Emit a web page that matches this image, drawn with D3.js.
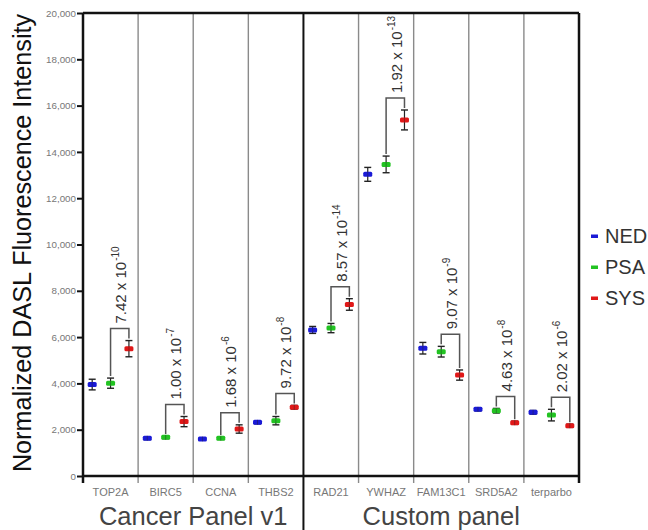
<!DOCTYPE html>
<html>
<head>
<meta charset="utf-8">
<script src="https://cdn.jsdelivr.net/npm/d3@7"></script>
<style>
  body { margin: 0; background: #fff; }
  svg { display: block; font-family: "Liberation Sans", Arial, sans-serif; }
</style>
</head>
<body>
<div id="chart"></div>
<script>
// Gene-level DASL intensities, three sample groups (mean ± error)
const genes   = ["TOP2A", "BIRC5", "CCNA", "THBS2", "RAD21", "YWHAZ", "FAM13C1", "SRD5A2", "terparbo"];
const panels  = ["Cancer Panel v1", "Cancer Panel v1", "Cancer Panel v1", "Cancer Panel v1",
                 "Custom panel", "Custom panel", "Custom panel", "Custom panel", "Custom panel"];
const series  = ["NED", "PSA", "SYS"];
const colors  = ["#1a1ad6", "#22c322", "#e01818"];

const ned    = [3950, 1630, 1600, 2320, 6310, 13030, 5520, 2880, 2750];
const nedErr = [ 230,   60,   50,   70,  150,   300,  250,   70,   80];
const psa    = [4010, 1670, 1630, 2390, 6390, 13460, 5370, 2820, 2630];
const psaErr = [ 220,   60,   50,  180,  200,   360,  230,  100,  250];
const sys    = [5500, 2350, 2030, 2970, 7410, 15380, 4360, 2300, 2170];
const sysErr = [ 350,  220,  180,   80,  250,   430,  220,   70,   70];

// PSA vs SYS p-values: mantissa and exponent
const pMant = ["7.42", "1.00", "1.68", "9.72", "8.57", "1.92", "9.07", "4.63", "2.02"];
const pExp  = [-10, -7, -6, -8, -14, -13, -9, -8, -6];

const yTicks = d3.range(0, 20001, 2000);

const W = 648, H = 530;
const M = { top: 13, right: 69, bottom: 54, left: 83 };

const svg = d3.select("#chart").append("svg").attr("width", W).attr("height", H);

const x = d3.scaleBand().domain(genes).range([M.left, W - M.right]);
const xs = d3.scalePoint().domain(series).range([0, x.bandwidth()]).padding(0.5);
const y = d3.scaleLinear().domain([0, 20000]).range([H - M.bottom, M.top]);

const means = [ned, psa, sys];
const errs  = [nedErr, psaErr, sysErr];

// column separators (thin grey, thick black between panels)
const bounds = genes.slice(1).map((g) => x(g));
svg.append("g").selectAll("line").data(bounds).enter().append("line")
  .attr("x1", (d) => d).attr("x2", (d) => d)
  .attr("y1", M.top)
  .attr("y2", (d, i) => panels[i] !== panels[i + 1] ? H : y(0) + 7)
  .attr("stroke", (d, i) => panels[i] !== panels[i + 1] ? "#111" : "#8a8a8a")
  .attr("stroke-width", (d, i) => panels[i] !== panels[i + 1] ? 2 : 1.4);

// frame
const x0 = M.left, x1 = W - M.right;
svg.append("line").attr("x1", x0).attr("x2", x1).attr("y1", M.top).attr("y2", M.top)
  .attr("stroke", "#111").attr("stroke-width", 2.5);
svg.append("line").attr("x1", x1).attr("x2", x1).attr("y1", M.top).attr("y2", y(0) + 7)
  .attr("stroke", "#111").attr("stroke-width", 2.5);
svg.append("line").attr("x1", x0).attr("x2", x0).attr("y1", M.top).attr("y2", y(0) + 7)
  .attr("stroke", "#111").attr("stroke-width", 2.5);
svg.append("line").attr("x1", x0 - 1).attr("x2", x1 + 1).attr("y1", y(0)).attr("y2", y(0))
  .attr("stroke", "#111").attr("stroke-width", 2.5);

// y axis
const yAxis = svg.append("g").attr("transform", `translate(${x0},0)`)
  .call(d3.axisLeft(y).tickValues(yTicks).tickFormat(d3.format(",")).tickSize(6).tickPadding(1));
yAxis.select(".domain").remove();
yAxis.selectAll(".tick line").attr("stroke", "#111").attr("stroke-width", 2);
yAxis.selectAll(".tick text").attr("fill", "#777").attr("font-size", 9.8)
  .attr("font-family", "Liberation Sans, Arial, sans-serif");

svg.append("text")
  .attr("transform", `translate(31,243) rotate(-90)`)
  .attr("text-anchor", "middle")
  .attr("font-size", 25.2).attr("fill", "#111")
  .text("Normalized DASL Fluorescence Intensity");

// gene labels
svg.append("g").selectAll("text").data(genes).enter().append("text")
  .attr("x", (d) => x(d) + x.bandwidth() / 2)
  .attr("y", y(0) + 20)
  .attr("text-anchor", "middle")
  .attr("font-size", 11).attr("fill", "#777")
  .text((d) => d);

// panel labels
const panelNames = Array.from(new Set(panels));
svg.append("g").selectAll("text").data(panelNames).enter().append("text")
  .attr("x", (p) => {
    const gs = genes.filter((g, i) => panels[i] === p);
    return (x(gs[0]) + x(gs[gs.length - 1]) + x.bandwidth()) / 2;
  })
  .attr("y", H - 5)
  .attr("text-anchor", "middle")
  .attr("font-size", 25.5).attr("fill", "#444")
  .text((p) => p);

// brackets + p-values
const bracket = svg.append("g");
genes.forEach((g, i) => {
  const xa = x(g) + xs("PSA"), xb = x(g) + xs("SYS");
  const ya = y(psa[i] + psaErr[i]) - 2, yb = y(sys[i] + sysErr[i]) - 2;
  const top = Math.min(ya, yb) - 10;
  bracket.append("path")
    .attr("d", `M${xa},${ya}V${top}H${xb}V${yb}`)
    .attr("fill", "none").attr("stroke", "#555").attr("stroke-width", 1.5);
  const t = bracket.append("text")
    .attr("transform", `translate(${(xa + xb) / 2 + 1},${top - 5}) rotate(-90)`)
    .attr("dy", "0.36em")
    .attr("font-size", 15).attr("fill", "#333");
  t.append("tspan").text(`${pMant[i]} x 10`);
  t.append("tspan").attr("dy", "-0.7em").attr("dx", 1).attr("font-size", 10).text(pExp[i]);
});

// error bars and means
series.forEach((s, k) => {
  const gS = svg.append("g");
  genes.forEach((g, i) => {
    const cx = x(g) + xs(s);
    const hi = y(means[k][i] + errs[k][i]), lo = y(means[k][i] - errs[k][i]);
    gS.append("line").attr("x1", cx).attr("x2", cx).attr("y1", hi).attr("y2", lo)
      .attr("stroke", "#222").attr("stroke-width", 1.2);
    [hi, lo].forEach((yy) => gS.append("line")
      .attr("x1", cx - 3.5).attr("x2", cx + 3.5).attr("y1", yy).attr("y2", yy)
      .attr("stroke", "#222").attr("stroke-width", 1.4));
    gS.append("rect")
      .attr("x", cx - 4.5).attr("y", y(means[k][i]) - 2.5)
      .attr("width", 9).attr("height", 5).attr("rx", 1.5)
      .attr("fill", colors[k]);
    gS.append("line").attr("x1", cx).attr("x2", cx)
      .attr("y1", y(means[k][i]) - 2.5).attr("y2", y(means[k][i]) + 2.5)
      .attr("stroke", "#222").attr("stroke-width", 0.8).attr("opacity", 0.5);
  });
});

// legend
const leg = svg.append("g").attr("transform", `translate(591,236)`);
series.forEach((s, k) => {
  const row = leg.append("g").attr("transform", `translate(0,${k * 31})`);
  row.append("rect").attr("x", 0).attr("y", -1.5).attr("width", 7).attr("height", 3.5)
    .attr("fill", colors[k]);
  row.append("text").attr("x", 14).attr("y", 0).attr("dy", "0.36em")
    .attr("font-size", 20).attr("fill", "#333").text(s);
});
</script>
</body>
</html>
